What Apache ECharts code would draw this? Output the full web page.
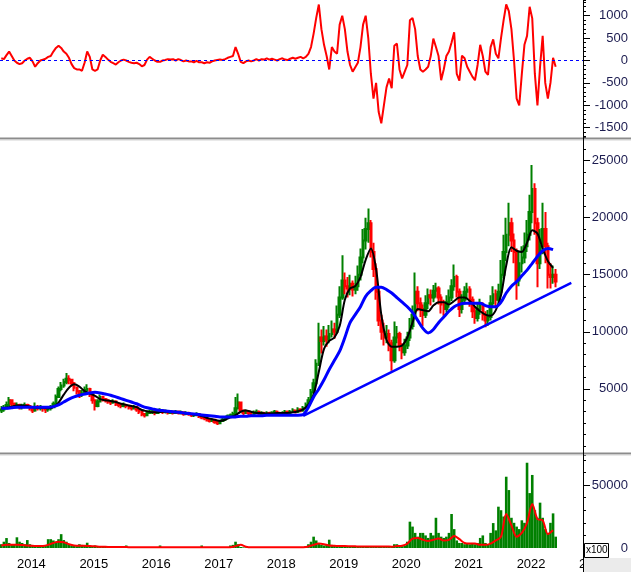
<!DOCTYPE html>
<html>
<head>
<meta charset="utf-8">
<script src="https://cdn.jsdelivr.net/npm/echarts@6/dist/echarts.min.js"></script>
<style>
  html, body { margin: 0; padding: 0; background: #fff; }
  #chart { width: 631px; height: 572px; }
</style>
</head>
<body>
<div id="chart"></div>
<script>
// half-month periods, Oct 2013 .. Jan 2023
const cats = []
for (let i = 0; i < 224; i++) {
  const m = 9 + Math.floor(i / 2)
  const y = 2013 + Math.floor(m / 12)
  const mm = String(m % 12 + 1).padStart(2, '0')
  cats.push(y + '-' + mm + (i % 2 ? '-16' : '-01'))
}

// [open, close, low, high], one per half month
const candles = [
  [3100,3200,2900,3500],[3200,3300,3000,3600],[3300,3600,3200,3900],[3600,4000,3500,4300],[4000,3700,3500,4100],
  [3700,3500,3300,3800],[3500,3600,3300,3800],[3600,3400,3200,3700],[3400,3500,3200,3700],[3500,3600,3300,3800],
  [3600,3500,3300,3700],[3500,3300,3100,3600],[3300,3100,2900,3400],[3100,3400,3000,3800],[3400,3300,3100,3600],
  [3300,3400,3100,3600],[3400,3300,3000,3500],[3300,3200,2900,3400],[3200,3300,3000,3500],[3300,3400,3100,3600],
  [3400,3700,3300,3900],[3700,4300,3600,4500],[4300,5000,4200,5200],[5000,5300,4800,5600],[5300,5600,5100,5900],
  [5600,5900,5400,6400],[5900,5800,5400,6200],[5800,5500,5200,5900],[5500,5100,4800,5600],[5100,4800,4500,5200],
  [4800,4500,4200,4900],[4500,4600,4300,4900],[4600,4900,4500,5200],[4900,5000,4700,5400],[5000,4500,4300,5100],
  [4500,4000,3700,4600],[4000,3500,3100,4100],[3500,3900,3400,4100],[3900,4300,3800,4500],[4300,4100,3900,4400],
  [4100,4000,3800,4200],[4000,3900,3700,4100],[3900,3800,3600,4000],[3800,3900,3700,4100],[3900,3700,3500,4000],
  [3700,3600,3400,3800],[3600,3500,3300,3700],[3500,3600,3400,3800],[3600,3500,3300,3700],[3500,3400,3200,3600],
  [3400,3300,3100,3500],[3300,3400,3200,3600],[3400,3200,3000,3500],[3200,3000,2800,3300],[3000,2800,2600,3100],
  [2800,2700,2500,2900],[2700,2900,2600,3100],[2900,3000,2800,3200],[2950,3050,2800,3200],[3000,2900,2700,3100],
  [2900,3000,2800,3200],[3000,3100,2900,3300],[3100,3000,2800,3200],[3000,3050,2850,3200],[3050,2900,2750,3100],
  [2900,3000,2800,3150],[3000,2900,2750,3100],[2900,3000,2800,3150],[3000,2900,2750,3100],[2900,2950,2750,3100],
  [2950,2800,2650,3000],[2800,2900,2700,3050],[2900,2800,2650,3000],[2800,2700,2550,2900],[2700,2750,2550,2900],
  [2750,2800,2600,2950],[2800,2600,2450,2850],[2600,2500,2350,2700],[2500,2400,2250,2600],[2400,2300,2150,2500],
  [2300,2200,2050,2400],[2200,2300,2100,2450],[2300,2100,1950,2350],[2100,2000,1850,2200],[2000,2200,1900,2300],
  [2200,2300,2100,2450],[2300,2500,2200,2600],[2500,2600,2400,2750],[2600,2700,2500,2850],[2700,2800,2600,3000],
  [2800,3300,2700,4300],[3300,3800,3200,4600],[3800,3100,2900,3900],[3100,2900,2700,3200],[2900,3000,2800,3200],
  [3000,2900,2700,3100],[2900,2800,2650,3000],[2800,2900,2700,3100],[2900,3000,2800,3200],[3000,2800,2650,3100],
  [2800,2900,2700,3050],[2900,2800,2650,3000],[2800,2900,2700,3050],[2900,2800,2650,3000],[2800,2900,2700,3050],
  [2900,3000,2800,3150],[3000,2900,2750,3100],[2900,2800,2650,3000],[2800,2900,2700,3050],[2900,3000,2800,3150],
  [3000,2900,2750,3100],[2900,3000,2800,3150],[3000,3100,2900,3300],[3100,3000,2850,3200],[3000,3200,2900,3400],
  [3200,3100,2950,3300],[3100,3300,3000,3500],[3300,3600,3200,3800],[3600,4000,3500,4300],[4000,4700,3900,5000],
  [4700,5500,4600,5900],[5500,7200,5400,7600],[7200,9500,7000,10800],[9500,9200,8100,10200],[9200,9600,8800,10500],
  [9600,9300,8700,10200],[9300,9800,9000,10600],[9800,10200,9500,11000],[10200,10000,9400,10800],[10000,11500,9800,12300],
  [11500,13000,11200,14000],[13000,14500,12800,16700],[14500,14000,13300,15200],[14000,13800,13000,14800],[13800,14200,13200,15000],
  [14200,13700,13100,14500],[13700,14000,13300,14900],[14000,15000,13600,15800],[15000,16500,14500,17300],[16500,18000,16000,19000],
  [18000,19000,17200,20000],[19000,19500,17800,20800],[19500,17000,16500,19800],[17000,15500,14800,17800],[15500,13500,12800,16000],
  [13500,11000,10500,14000],[11000,10000,9300,11500],[10000,9500,8800,10800],[9500,9800,9000,10600],[9800,9000,8300,10200],
  [9000,7500,6600,9300],[7500,9500,7300,10900],[9500,9800,9000,10500],[9800,8800,8300,10000],[8800,8200,7600,9000],
  [8200,8800,7900,9400],[8800,9500,8500,10000],[9500,10500,9200,11200],[10500,11500,10200,12300],[11500,13500,11200,15200],
  [13500,12500,11800,14000],[12500,12000,11300,13000],[12000,11500,10500,12400],[11500,12500,11200,13200],[12500,13200,12000,13800],
  [13200,13000,12300,13700],[13000,13600,12600,14100],[13600,13800,13000,14300],[13800,13000,12400,14000],[13000,12400,11600,13300],
  [12400,12000,11400,12800],[12000,12600,11700,13200],[12600,13000,12100,13700],[13000,14000,12700,14600],[14000,14800,13600,15900],
  [14800,13500,13000,15000],[13500,12000,11300,13800],[12000,12800,11600,13300],[12800,13500,12400,14000],[13500,13700,12900,14300],
  [13700,12800,12200,14000],[12800,11800,11200,13100],[11800,11200,10700,12200],[11200,12000,10900,12600],[12000,12300,11500,12900],
  [12300,11500,11000,12600],[11500,11000,10400,11800],[11000,11300,10500,11900],[11300,12500,11000,13200],[12500,13300,12100,14000],
  [13300,12800,12200,13700],[12800,13500,12400,14200],[13500,15000,13200,16300],[15000,17000,14700,18500],[17000,18500,16200,20000],
  [18500,19500,17500,21300],[19500,18000,17000,20000],[18000,17000,16000,18600],[17000,14500,12800,17300],[14500,16000,14000,17000],
  [16000,16500,15200,17500],[16500,17500,16000,18700],[17500,18500,17000,19800],[18500,20500,18000,22000],[20500,22500,19500,24600],
  [22500,19500,18500,23000],[19500,16000,13900,20000],[16000,17500,15500,19000],[17500,19000,16800,21300],[19000,17500,16000,20500],
  [17500,15000,13800,17800],[15000,14800,13800,16000],[14800,15000,14200,15800],[15000,14400,13900,15500]
]

// monthly moving averages (one value per month, from Oct 2013)
const maFast = [
  3300,3350,3450,3550,3550,3500,3400,3350,3350,3300,
  3400,3800,4500,5100,5400,5200,4800,4600,4400,4100,
  4000,3950,3850,3700,3600,3500,3400,3150,3050,2950,
  2950,3000,3000,2950,2950,2900,2850,2750,2700,2550,
  2400,2300,2200,2300,2500,2700,3000,3100,3000,2900,
  2900,2850,2850,2900,2900,2900,2950,3050,3200,3600,
  4500,6500,8500,9200,9500,10500,12800,13800,14000,14800,
  16300,17300,15500,11500,9300,8700,8700,8800,9500,10800,
  12000,11900,11800,12300,12600,12600,12400,12700,13000,13000,
  12700,12200,11800,11500,11400,11900,13200,15800,17400,17100,
  17000,17800,18900,18600,17300,16200,15600
]
const maSlow = [
  3300,3300,3350,3400,3400,3400,3400,3400,3400,3400,
  3450,3600,3850,4100,4300,4450,4550,4650,4700,4650,
  4550,4450,4300,4150,4000,3850,3700,3500,3350,3250,
  3150,3100,3050,3000,2950,2900,2850,2800,2750,2700,
  2650,2600,2550,2550,2550,2550,2600,2600,2650,2650,
  2650,2700,2700,2700,2700,2700,2700,2700,2750,3400,
  4300,5000,5800,6700,7500,8300,9500,10800,11500,12200,
  13100,13600,13900,13900,13700,13400,13000,12600,12200,11700,
  11000,10300,9900,10200,10800,11300,11800,12200,12400,12500,
  12500,12500,12500,12300,12200,12200,12600,13400,14000,14400,
  14900,15400,16000,16600,17100,17300,17200
]

// trend line: [period index, price]
const trendFrom = [116, 2630]
const trendTo = [219, 14280]

// oscillator, one per half month
const osc = [
  50,30,120,200,100,0,-50,-80,-60,0,
  40,60,-20,-140,-60,0,20,40,80,100,
  200,280,330,280,200,150,60,-80,-170,-200,
  -200,-230,-50,200,80,-200,-230,-200,0,130,
  80,20,-30,-60,-90,-40,0,20,0,-30,
  -50,-60,-50,-80,-130,-100,20,80,40,0,
  -30,-30,0,10,30,20,30,0,30,10,
  -20,0,-20,-20,-40,-10,-40,-40,-60,-40,
  -50,-20,0,10,20,10,30,60,80,100,
  300,150,-30,-60,-20,0,-20,0,30,0,
  30,20,50,20,40,20,0,30,50,20,
  10,40,60,40,60,80,50,80,150,300,
  600,950,1250,700,350,100,-200,300,200,150,
  800,1000,700,200,-100,-250,-150,-50,300,800,
  1000,500,-300,-850,-500,-1150,-1400,-1000,-600,-400,
  -620,330,380,-200,-400,-250,-100,900,950,700,
  100,-200,-250,-200,-140,100,490,300,100,-440,
  -200,100,200,400,630,-300,-450,110,50,-140,
  -250,-360,-440,-100,350,100,-250,-320,300,470,
  150,50,500,900,1250,1100,700,0,-850,-1000,
  -300,350,550,1200,940,-300,-1000,-140,550,-500,
  -850,-500,60,-140
]

// volume (x100), one per half month
const volume = [
  3000,5000,7900,4000,3000,2500, 8500,5000,4000,3000,6300,3000,
  2000,2000,1500,2000,1500,2000, 7000,7000,6000,5000,7000,11000,
  6300,5000,3000,2000,2000,1500, 3000,2500,2000,4200,2000,1500,
  2000,1500,1000,1000,800,800, 800,700,700,600,600,600,
  2000,600,500,500,500,500, 500,500,500,500,500,500,
  500,2000,500,500,500,500, 500,500,500,500,500,500,
  500,500,500,500,500,2000, 500,500,500,500,500,500,
  500,500,500,500,2000,2500, 5000,3000,800,500,500,500,
  500,500,500,500,500,500, 500,500,500,500,500,500,
  500,500,500,500,500,500, 500,500,800,1500,3000,5000,
  9000,6000,4000,2500,2000,2500, 6600,2500,2000,1500,1500,2000,
  1500,1500,1200,1000,1000,1000, 1200,1500,1200,1000,1000,1000,
  1200,1500,1500,1200,1000,800, 1000,3000,3000,1000,1500,2000,
  5000,20900,17000,12000,9000,12000, 12000,10000,8000,12000,10000,24000,
  12000,9000,8000,9000,12000,27000, 15000,6000,4000,4000,3000,4000,
  3000,4000,3000,4000,8000,10000, 4000,3000,12000,19800,14000,32800,
  30000,25000,56600,46000,24000,20000, 17000,15000,22000,20000,67700,43600,
  58000,30000,24000,36000,24000,15000, 12000,20000,27500,9000
]
const volMa = [
  2000,2500,2600,2600,2400,2000,1800,1500,1600,2500,
  4000,5000,4500,3000,2000,1800,1800,1500,1300,1000,
  900,800,700,700,700,600,600,600,500,500,
  500,500,500,500,500,500,500,500,500,500,
  500,500,500,500,600,1500,2500,1000,500,500,
  500,500,500,500,500,500,500,500,600,1200,
  2500,3500,3000,2000,1800,1500,1500,1400,1300,1200,
  1200,1100,1100,1200,1200,1000,1500,1800,3500,7500,
  8000,6500,5500,6500,7500,6000,6500,9500,7000,4000,
  3500,3500,2500,2500,3500,6000,9000,27000,18000,9000,
  12000,20000,35000,23000,22000,11000,14000
]

const oscLabels = [-1500, -1000, -500, 0, 500, 1000]
const priceLabels = [5000, 10000, 15000, 20000, 25000]
const volLabels = [0, 50000]

const FONT = "'Liberation Sans', Arial, sans-serif"
const LABEL_COLOR = '#1c1c50'

const monthly = arr => cats.map((_, i) => (i % 2 === 0 && i / 2 < arr.length ? arr[i / 2] : null))
const isYearStart = (i, v) => v.slice(5) === '01-01'

function hiddenX(gridIndex) {
  return { type: 'category', gridIndex, data: cats, boundaryGap: true, show: false }
}

function minorY(gridIndex, min, max, interval) {
  return {
    type: 'value', gridIndex, position: 'right', min, max, interval,
    axisLine: { show: false },
    splitLine: { show: false },
    axisTick: { show: true, length: 3, lineStyle: { color: '#000' } },
    axisLabel: { show: false },
  }
}

function majorY(gridIndex, min, max, values) {
  return {
    type: 'value', gridIndex, position: 'right', min, max,
    axisLine: { show: false },
    splitLine: { show: false },
    axisTick: { show: true, length: 7, customValues: values, lineStyle: { color: '#000' } },
    axisLabel: {
      customValues: values, align: 'right', margin: 45,
      formatter: v => String(v),
      color: LABEL_COLOR, fontSize: 13, fontFamily: FONT,
    },
  }
}

const chart = echarts.init(document.getElementById('chart'), null, { renderer: 'canvas' })

chart.setOption({
  animation: false,
  backgroundColor: '#fff',
  grid: [
    { left: 0, right: 48, top: 0, height: 136.7 },
    { left: 0, right: 48, top: 137.7, height: 308.3 },
    { left: 0, right: 48, top: 454.8, height: 93.2 },
    { left: 0, right: 48, top: 557, height: 15 },
  ],
  xAxis: [
    hiddenX(0),
    hiddenX(1),
    hiddenX(2),
    {
      type: 'category', gridIndex: 3, data: cats, boundaryGap: true, position: 'top',
      axisLine: { lineStyle: { color: '#000', width: 1 } },
      axisTick: { inside: true, length: 15, interval: isYearStart, lineStyle: { color: '#000' } },
      axisLabel: {
        inside: true, interval: isYearStart, formatter: v => v.slice(0, 4),
        align: 'left', margin: 1, color: '#000', fontSize: 13, fontFamily: FONT,
      },
    },
  ],
  yAxis: [
    minorY(0, -1700, 1350, 100),
    majorY(0, -1700, 1350, oscLabels),
    minorY(1, 0, 27000, 1000),
    majorY(1, 0, 27000, priceLabels),
    minorY(2, 0, 74000, 10000),
    majorY(2, 0, 74000, volLabels),
    { type: 'value', gridIndex: 3, show: false },
  ],
  series: [
    {
      name: 'osc', type: 'line', xAxisIndex: 0, yAxisIndex: 0, data: osc,
      showSymbol: false, lineStyle: { color: '#ff0000', width: 2 },
      markLine: {
        silent: true, symbol: ['none', 'none'], label: { show: false },
        lineStyle: { color: '#0000ff', type: [3, 3], width: 1 },
        data: [{ yAxis: 0 }],
      },
    },
    {
      name: 'price', type: 'candlestick', xAxisIndex: 1, yAxisIndex: 2, data: candles,
      barWidth: 2,
      itemStyle: {
        color: '#008000', color0: '#ff0000',
        borderColor: '#008000', borderColor0: '#ff0000', borderWidth: 2,
      },
    },
    {
      name: 'maFast', type: 'line', xAxisIndex: 1, yAxisIndex: 2, data: monthly(maFast),
      connectNulls: true, showSymbol: false, smooth: 0.3,
      lineStyle: { color: '#000', width: 2 },
    },
    {
      name: 'maSlow', type: 'line', xAxisIndex: 1, yAxisIndex: 2, data: monthly(maSlow),
      connectNulls: true, showSymbol: false, smooth: 0.3,
      lineStyle: { color: '#0000ff', width: 3 },
    },
    {
      name: 'trend', type: 'line', xAxisIndex: 1, yAxisIndex: 2, data: [trendFrom, trendTo],
      showSymbol: false, lineStyle: { color: '#0000ff', width: 2.5 },
    },
    {
      name: 'volume', type: 'bar', xAxisIndex: 2, yAxisIndex: 4, data: volume,
      barWidth: '100%', itemStyle: { color: '#008000' },
    },
    {
      name: 'volMa', type: 'line', xAxisIndex: 2, yAxisIndex: 4, data: monthly(volMa),
      connectNulls: true, showSymbol: false, smooth: 0.3,
      lineStyle: { color: '#ff0000', width: 2 },
    },
  ],
  graphic: [
    { type: 'rect', z: 100, shape: { x: 0, y: 137.5, width: 631, height: 2 }, style: { fill: '#8c8c8c' } },
    { type: 'rect', z: 100, shape: { x: 0, y: 139.5, width: 631, height: 1 }, style: { fill: '#d4d4d4' } },
    { type: 'rect', z: 100, shape: { x: 0, y: 452.5, width: 631, height: 2 }, style: { fill: '#8c8c8c' } },
    { type: 'rect', z: 100, shape: { x: 0, y: 454.5, width: 631, height: 1 }, style: { fill: '#d4d4d4' } },
    { type: 'line', z: 100, shape: { x1: 583.5, y1: 0, x2: 583.5, y2: 572 }, style: { stroke: '#000', lineWidth: 1 } },
    { type: 'rect', z: 100, shape: { x: 584, y: 558, width: 47, height: 14 }, style: { fill: '#ebebeb' } },
    { type: 'rect', z: 101, shape: { x: 584.5, y: 543.5, width: 24, height: 14 }, style: { fill: '#fff', stroke: '#000', lineWidth: 1 } },
    { type: 'text', z: 102, x: 586, y: 545, style: { text: 'x100', fill: '#000', font: "10px 'Liberation Sans', Arial, sans-serif" } },
  ],
})
</script>
</body>
</html>
